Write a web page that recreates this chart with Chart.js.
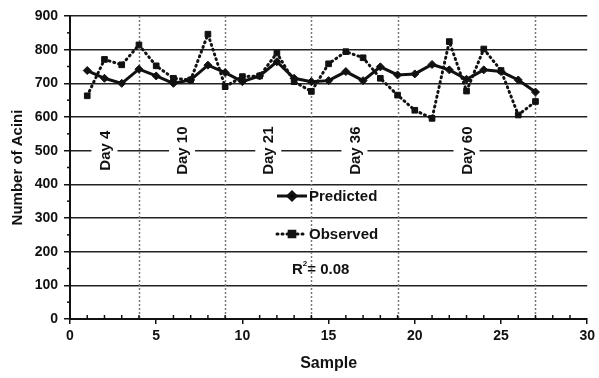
<!DOCTYPE html>
<html>
<head>
<meta charset="utf-8">
<script src="https://cdn.jsdelivr.net/npm/chart.js@4"></script>
<style>
  html, body { margin: 0; padding: 0; background: #fff; }
  canvas { display: block; }
</style>
</head>
<body>
<canvas id="chart" width="599" height="378"></canvas>
<script>
// samples and values
const samples = [1, 2, 3, 4, 5, 6, 7, 8, 9, 10, 11, 12, 13, 14, 15, 16, 17, 18, 19, 20, 21, 22, 23, 24, 25, 26, 27];
const predicted = [738, 715, 700, 742, 722, 700, 710, 754, 732, 705, 722, 764, 715, 705, 708, 735, 708, 749, 725, 728, 756, 740, 712, 740, 735, 710, 674];
const observed = [663, 771, 755, 814, 752, 715, 710, 846, 690, 720, 722, 790, 705, 676, 758, 794, 776, 715, 665, 620, 596, 824, 677, 802, 738, 606, 646];

// day groups: boundaries (dotted lines) and label positions
const dayBoundaries = [4, 9, 14, 19, 27];
const dayLabels = ['Day 4', 'Day 10', 'Day 21', 'Day 36', 'Day 60'];
const dayLabelX = [2, 6.5, 11.5, 16.5, 23];
const dayLabelY = 500;
const rSquared = '0.08';

const FONT = "'Liberation Sans', Arial, sans-serif";

const toPoints = (xs, ys) => xs.map((x, i) => ({ x: x, y: ys[i] }));

// dotted day lines, minor ticks and day labels under the data
const backdropPlugin = {
  id: 'backdrop',
  beforeDatasetsDraw(chart) {
    const ctx = chart.ctx;
    const xs = chart.scales.x;
    const ys = chart.scales.y;
    const area = chart.chartArea;
    ctx.save();

    // dotted vertical separators
    ctx.strokeStyle = '#777';
    ctx.lineWidth = 1.5;
    ctx.setLineDash([2, 2]);
    dayBoundaries.forEach(v => {
      const px = Math.round(xs.getPixelForValue(v)) + 0.5;
      ctx.beginPath();
      ctx.moveTo(px, area.top);
      ctx.lineTo(px, area.bottom);
      ctx.stroke();
    });
    ctx.setLineDash([]);

    // minor ticks
    ctx.strokeStyle = '#111';
    ctx.lineWidth = 1.5;
    for (let v = 1; v < 30; v++) {
      if (v % 5 === 0) continue;
      const px = xs.getPixelForValue(v);
      ctx.beginPath();
      ctx.moveTo(px, area.bottom);
      ctx.lineTo(px, area.bottom - 4);
      ctx.stroke();
    }
    for (let v = 50; v < 900; v += 100) {
      const py = ys.getPixelForValue(v);
      ctx.beginPath();
      ctx.moveTo(area.left, py);
      ctx.lineTo(area.left - 3, py);
      ctx.stroke();
    }

    // day labels, with white boxes cutting the gridline
    ctx.font = 'bold 15px ' + FONT;
    ctx.textAlign = 'center';
    ctx.textBaseline = 'middle';
    dayLabels.forEach((label, i) => {
      const px = xs.getPixelForValue(dayLabelX[i]);
      const py = ys.getPixelForValue(dayLabelY);
      const w = ctx.measureText(label).width;
      ctx.save();
      ctx.translate(px, py);
      ctx.rotate(-Math.PI / 2);
      ctx.fillStyle = '#fff';
      ctx.fillRect(-w / 2 - 8, -13, w + 16, 26);
      ctx.fillStyle = '#111';
      ctx.fillText(label, 0, 1);
      ctx.restore();
    });
    ctx.restore();
  }
};

// legend and R² in the middle of the plot
const legendPlugin = {
  id: 'midLegend',
  afterDatasetsDraw(chart) {
    const ctx = chart.ctx;
    const area = chart.chartArea;
    const x0 = area.left + 207;
    const rows = [
      { ds: chart.data.datasets[1], y: area.top + 180 },
      { ds: chart.data.datasets[0], y: area.top + 218 }
    ];
    ctx.save();
    rows.forEach(r => {
      ctx.strokeStyle = '#111';
      ctx.lineWidth = r.ds.borderWidth;
      ctx.lineCap = r.ds.borderCapStyle || 'butt';
      ctx.setLineDash(r.ds.borderDash || []);
      ctx.beginPath();
      ctx.moveTo(x0, r.y);
      ctx.lineTo(x0 + 30, r.y);
      ctx.stroke();
      ctx.setLineDash([]);
      Chart.helpers.drawPoint(ctx, {
        pointStyle: r.ds.pointStyle,
        radius: r.ds.pointRadius,
        borderWidth: 1
      }, x0 + 15, r.y);
      ctx.fillStyle = '#111';
      ctx.font = 'bold 15px ' + FONT;
      ctx.textAlign = 'left';
      ctx.textBaseline = 'middle';
      ctx.fillText(r.ds.label, x0 + 32, r.y + 1);
    });

    // R² = value
    ctx.font = 'bold 15px ' + FONT;
    ctx.textBaseline = 'alphabetic';
    const yR = area.top + 258;
    let x = area.left + 222;
    ctx.fillText('R', x, yR);
    x += ctx.measureText('R').width;
    ctx.font = 'bold 8px ' + FONT;
    ctx.fillText('2', x, yR - 8);
    x += ctx.measureText('2').width;
    ctx.font = 'bold 15px ' + FONT;
    ctx.fillText('= ' + rSquared, x, yR);
    ctx.restore();
  }
};

new Chart(document.getElementById('chart'), {
  type: 'line',
  data: {
    datasets: [
      {
        label: 'Observed',
        data: toPoints(samples, observed),
        borderColor: '#111',
        backgroundColor: '#111',
        borderWidth: 3,
        borderDash: [1, 4],
        borderCapStyle: 'round',
        pointStyle: 'rect',
        pointRadius: 4,
        pointBorderWidth: 1,
        order: 2
      },
      {
        label: 'Predicted',
        data: toPoints(samples, predicted),
        borderColor: '#111',
        backgroundColor: '#111',
        borderWidth: 3,
        pointStyle: 'rectRot',
        pointRadius: 4,
        pointBorderWidth: 1,
        order: 1
      }
    ]
  },
  options: {
    responsive: false,
    animation: false,
    layout: { padding: { top: 16, right: 0, left: 0, bottom: 0 } },
    plugins: {
      legend: { display: false },
      tooltip: { enabled: false }
    },
    scales: {
      x: {
        type: 'linear',
        min: 0,
        max: 30,
        afterFit: s => { s.height = 59; },
        ticks: {
          stepSize: 5,
          color: '#111',
          padding: 4,
          font: { family: FONT, size: 14, weight: 'bold' }
        },
        grid: {
          drawOnChartArea: false,
          drawTicks: true,
          tickLength: 5,
          color: '#111',
          lineWidth: 1.5
        },
        border: { display: true, color: '#111', width: 2 },
        title: {
          display: true,
          text: 'Sample',
          color: '#111',
          padding: { top: 0, bottom: 5 },
          font: { family: FONT, size: 16, weight: 'bold' }
        }
      },
      y: {
        min: 0,
        max: 900,
        afterFit: s => { s.width = 70; },
        ticks: {
          stepSize: 100,
          color: '#111',
          padding: 6,
          font: { family: FONT, size: 14, weight: 'bold' }
        },
        grid: {
          color: '#222',
          lineWidth: 1.5,
          tickLength: 6,
          tickColor: '#111'
        },
        border: { display: true, color: '#111', width: 2 },
        title: {
          display: true,
          text: 'Number of Acini',
          color: '#111',
          padding: { top: 9, bottom: 0 },
          font: { family: FONT, size: 15, weight: 'bold' }
        }
      }
    }
  },
  plugins: [backdropPlugin, legendPlugin]
});
</script>
</body>
</html>
